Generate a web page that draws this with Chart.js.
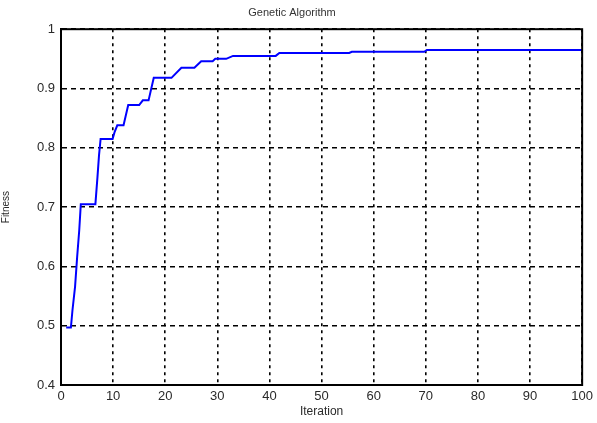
<!DOCTYPE html>
<html>
<head>
<meta charset="utf-8">
<script src="https://cdn.jsdelivr.net/npm/chart.js@4"></script>
<style>
  html, body { margin: 0; padding: 0; background: #fff; }
  #wrap { width: 597px; height: 423px; }
</style>
</head>
<body>
<div id="wrap"><canvas id="gaChart"></canvas></div>
<script>
// best fitness per iteration, corners
const iterations = [1, 1.9, 2.2, 2.7, 3.1, 3.5, 3.8, 6.6, 7.0, 7.3, 7.6, 9.9, 10.3, 10.8, 12.0, 12.9,
  15.0, 15.7, 16.8, 17.8, 21.2, 23.1, 25.6, 26.9, 29.1, 29.6, 31.7, 33.0, 41.2, 41.9, 55.3, 55.8,
  69.7, 70.2, 100];
const fitness = [0.497, 0.497, 0.526, 0.566, 0.616, 0.661, 0.705, 0.705, 0.751, 0.788, 0.815, 0.815,
  0.827, 0.838, 0.838, 0.872, 0.872, 0.880, 0.880, 0.918, 0.918, 0.935, 0.935, 0.946, 0.946, 0.950,
  0.950, 0.955, 0.955, 0.960, 0.960, 0.962, 0.962, 0.965, 0.965];

const xRange = [0, 100];
const yRange = [0.4, 1];

const points = iterations.map((x, i) => ({ x: x, y: fitness[i] }));

// box around the plot area, like matlab's axes frame
const frame = {
  id: 'frame',
  afterDraw(chart) {
    const a = chart.chartArea;
    const c = chart.ctx;
    c.save();
    c.strokeStyle = '#000';
    c.lineWidth = 2;
    c.strokeRect(a.left, a.top, a.right - a.left, a.bottom - a.top);
    c.restore();
  }
};

Chart.defaults.font.family = 'Liberation Sans, Arial, sans-serif';
Chart.defaults.color = '#2a2a2a';

const ctx = document.getElementById('gaChart').getContext('2d');
const gaChart = new Chart(ctx, {
  type: 'line',
  data: {
    datasets: [{
      label: 'Fitness',
      data: points,
      borderColor: '#0000ff',
      borderWidth: 2,
      pointRadius: 0,
      tension: 0,
      fill: false
    }]
  },
  options: {
    responsive: true,
    maintainAspectRatio: false,
    animation: false,
    layout: { padding: { left: 0, right: 13, top: 0, bottom: 0 } },
    plugins: {
      legend: { display: false },
      tooltip: { enabled: false },
      title: {
        display: true,
        text: 'Genetic Algorithm',
        font: { size: 11, weight: 'normal' },
        color: '#333',
        padding: { top: 6, bottom: 10 }
      }
    },
    scales: {
      x: {
        type: 'linear',
        min: xRange[0],
        max: xRange[1],
        ticks: { stepSize: 10, font: { size: 13 }, padding: 4, maxRotation: 0 },
        grid: { color: '#000', lineWidth: 1.6, drawTicks: false },
        border: { display: true, color: '#000', width: 2, dash: [3, 4] },
        title: { display: true, text: 'Iteration', font: { size: 12 }, padding: { top: 0, bottom: 4 } },
        afterFit(scale) { scale.height = 38; }
      },
      y: {
        min: yRange[0],
        max: yRange[1],
        ticks: {
          stepSize: 0.1,
          font: { size: 13 },
          padding: 6,
          callback: (v) => String(+v.toFixed(1))
        },
        grid: { color: '#000', lineWidth: 1.6, drawTicks: false },
        border: { display: true, color: '#000', width: 2, dash: [5, 4] },
        title: { display: true, text: 'Fitness', font: { size: 10 }, padding: { top: 0, bottom: 2 } },
        afterFit(scale) { scale.width = 61; }
      }
    }
  },
  plugins: [frame]
});
</script>
</body>
</html>
